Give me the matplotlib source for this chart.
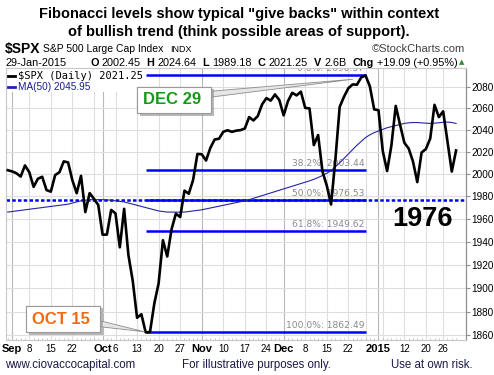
import numpy as np
import pandas as pd
import matplotlib
matplotlib.use("Agg")
import matplotlib.pyplot as plt
import matplotlib.patheffects as pe
from matplotlib.lines import Line2D
from matplotlib.patches import Rectangle
from matplotlib.ticker import FixedLocator, FixedFormatter, NullLocator

plt.rcParams['font.family'] = ['Liberation Sans', 'DejaVu Sans']

# trading days 29-Aug-2014 .. 29-Jan-2015
holidays = ['2014-09-01', '2014-11-27', '2014-12-25', '2015-01-01', '2015-01-19']

close = [
    2003.37,
    # Sep
    2002.28, 2000.72, 1997.65, 2007.71, 2001.54, 1988.44, 1995.69, 1997.45, 1985.54, 1984.13,
    1998.98, 2001.57, 2011.36, 2010.40, 1994.29, 1982.77, 1998.30, 1965.99, 1982.85, 1977.80,
    1972.29,
    # Oct
    1946.16, 1946.17, 1967.90, 1964.82, 1935.10, 1968.89, 1928.21, 1906.13, 1874.74, 1877.70,
    1862.49, 1862.76, 1886.76, 1904.01, 1941.28, 1927.11, 1950.82, 1964.58, 1961.63, 1985.05,
    1982.30, 1994.65, 2018.05,
    # Nov
    2017.81, 2012.10, 2023.57, 2031.21, 2031.92, 2038.26, 2039.68, 2038.25, 2039.33, 2039.82,
    2041.32, 2051.80, 2048.72, 2052.75, 2063.50, 2069.41, 2067.03, 2072.83, 2067.56,
    # Dec
    2053.44, 2066.55, 2074.33, 2071.92, 2075.37, 2060.31, 2059.82, 2026.14, 2035.33, 2002.33,
    1989.63, 1972.74, 2012.89, 2061.23, 2070.65, 2078.54, 2082.17, 2081.88, 2088.77, 2090.57,
    2080.35, 2058.90,
    # Jan
    2058.20, 2020.58, 2002.61, 2025.90, 2062.14, 2044.81, 2028.26, 2023.03, 2011.27, 1992.67,
    2019.42, 2022.55, 2032.12, 2063.15, 2051.82, 2057.09, 2029.55, 2002.16, 2021.25,
]

ma50 = [
    1966.0, 1966.5, 1967.0, 1967.5, 1968.0, 1968.5, 1969.0, 1969.5, 1970.0, 1970.5,
    1971.0, 1971.5, 1972.0, 1972.5, 1973.0, 1974.0, 1975.0, 1976.0, 1976.5, 1977.0,
    1977.0, 1977.0, 1977.0, 1976.8, 1976.5, 1976.0, 1975.5, 1975.0, 1974.0, 1973.0,
    1972.0, 1971.0, 1970.0, 1969.0, 1968.0, 1967.0, 1966.5, 1966.0, 1966.0, 1966.0,
    1966.0, 1966.0, 1966.5, 1967.0, 1967.5, 1968.0, 1968.8, 1969.6, 1970.4, 1971.2,
    1972.0, 1972.8, 1973.6, 1974.4, 1975.2, 1976.0, 1977.0, 1978.2, 1979.4, 1980.6,
    1981.8, 1983.0, 1984.2, 1985.4, 1986.6, 1987.8, 1989.0, 1990.2, 1991.4, 1992.6,
    1993.8, 1995.2, 1996.8, 1998.6, 2000.6, 2003.0, 2006.5, 2010.0, 2014.0, 2018.0,
    2022.0, 2026.0, 2029.5, 2033.0, 2035.5, 2037.5, 2039.0, 2040.5, 2042.0, 2043.0,
    2044.0, 2045.0, 2046.0, 2046.5, 2046.8, 2046.8, 2046.5, 2046.2, 2046.0, 2046.2,
    2046.6, 2047.0, 2047.2, 2046.8, 2045.95,
]

fib_pct = ['0.0%', '38.2%', '50.0%', '61.8%', '100.0%']
fib_val = [2090.57, 2003.44, 1976.53, 1949.62, 1862.49]
fib_start = '2014-10-15'
fib_end = '2014-12-29'

tick_dates = ['2014-09-02', '2014-09-08', '2014-09-15', '2014-09-22', '2014-10-01',
              '2014-10-06', '2014-10-13', '2014-10-20', '2014-10-27', '2014-11-03',
              '2014-11-10', '2014-11-17', '2014-11-24', '2014-12-01', '2014-12-08',
              '2014-12-15', '2014-12-22', '2015-01-02', '2015-01-12', '2015-01-20',
              '2015-01-26']
tick_labels = ['Sep', '8', '15', '22', 'Oct', '6', '13', '20', '27', 'Nov', '10', '17',
               '24', 'Dec', '8', '15', '22', '2015', '12', '20', '26']
month_labels = ['Sep', 'Oct', 'Nov', 'Dec', '2015']
extra_grid = ['2014-09-29', '2014-12-29', '2015-01-05']

y_ticks = list(range(1860, 2081, 20))

header_vals = [('O', '2002.45'), ('H', '2024.64'), ('L', '1989.18'),
               ('C', '2021.25'), ('V', '2.6B'), ('Chg', '+19.09 (+0.95%)')]

days = pd.bdate_range('2014-08-29', '2015-01-29')
days = days[~days.isin(pd.to_datetime(holidays))]
pos = {d.strftime('%Y-%m-%d'): i for i, d in enumerate(days)}
x = np.arange(len(days))

W, H = 494, 375


def fx(px):
    return px / W


def fy(py):
    return 1 - py / H


fig = plt.figure(figsize=(W / 100, H / 100), dpi=100)
ax = fig.add_axes([fx(6), fy(340), 460 / W, 272 / H])
ax.set_yscale('log')
ax.set_xlim(-0.4, 106.3)
ax.set_ylim(1856.1, 2097.6)

# grid
ax.set_axisbelow(True)
for d in tick_dates + extra_grid:
    lab = tick_labels[tick_dates.index(d)] if d in tick_dates else ''
    col = '#b8b8b8' if lab in month_labels else '#dedede'
    ax.axvline(pos[d], color=col, lw=0.8, zorder=0.3)
for v in y_ticks:
    ax.axhline(v, color='#dedede', lw=0.8, zorder=0.3)

# white legend area
ax.add_patch(Rectangle((fx(6), fy(92)), fx(140), 24 / H, transform=fig.transFigure,
                       fc='white', ec='none', zorder=0.6))

# fib levels
ax.axhline(fib_val[2], color='#0000ff', lw=1.8, ls=(0, (1.4, 0.9)), zorder=2)
x0, x1 = pos[fib_start], pos[fib_end]
for p, v in zip(fib_pct, fib_val):
    ax.hlines(v, x0, x1, color='#0000ff', lw=1.8, zorder=2)
    ax.annotate(f'{p}: {v:.2f}', xy=(x1 - 0.3, v), xytext=(0, 1.5),
                textcoords='offset points', ha='right', va='bottom',
                fontsize=6.6, color='#8a8a8a', family='DejaVu Sans',
                annotation_clip=False, clip_on=True, zorder=2)

ax.plot(x, ma50, color='#2323a8', lw=0.8, zorder=3)
ax.plot(x, close, color='black', lw=1.9, zorder=4, solid_joinstyle='round')

# axes style
for s in ['left', 'bottom', 'top']:
    ax.spines[s].set_color('#c8c8c8')
    ax.spines[s].set_linewidth(0.8)
ax.spines['right'].set_color('#909090')
ax.spines['right'].set_linewidth(0.9)

ax.yaxis.tick_right()
ax.yaxis.set_major_locator(FixedLocator(y_ticks))
ax.yaxis.set_major_formatter(FixedFormatter([str(v) for v in y_ticks]))
ax.yaxis.set_minor_locator(NullLocator())
ax.tick_params(axis='y', which='major', direction='out', length=3, width=0.8,
               color='#909090', labelsize=7.2, pad=1)

ax.set_xticks([pos[d] for d in tick_dates])
ax.set_xticklabels(tick_labels)
ax.set_xticks(x, minor=True)
ax.tick_params(axis='x', which='major', length=0, labelsize=7, pad=3)
ax.tick_params(axis='x', which='minor', direction='in', length=1.5, width=0.5,
               color='#b0b0b0')
for t in ax.get_xticklabels():
    if t.get_text() in month_labels:
        t.set_fontweight('bold')
        t.set_fontsize(8)

# callouts
shadow = [pe.withSimplePatchShadow(offset=(2, -2), shadow_rgbFace='#9a9a9a', alpha=0.7),
          pe.Normal()]
dec = ax.annotate('DEC 29 ', xy=(pos['2014-12-29'] - 3, 2087),
                  xytext=(fx(174), fy(100)), textcoords='figure fraction',
                  ha='center', va='center', fontsize=12, fontweight='bold',
                  color='#159a15', zorder=6,
                  bbox=dict(boxstyle='square,pad=0.35', fc='white', ec='#9a9a9a', lw=0.8),
                  arrowprops=dict(arrowstyle='wedge,tail_width=0.35,shrink_factor=0.5',
                                  fc='#e6e6e6', ec='#8c8c8c', lw=0.6,
                                  relpos=(1, 0.85), shrinkA=0, shrinkB=0))
dec.get_bbox_patch().set_path_effects(shadow)

octb = ax.annotate('OCT 15 ', xy=(pos['2014-10-15'] - 0.3, 1863),
                   xytext=(fx(63), fy(319)), textcoords='figure fraction',
                   ha='center', va='center', fontsize=12, fontweight='bold',
                   color='#f26a12', zorder=6,
                   bbox=dict(boxstyle='square,pad=0.35', fc='white', ec='#9a9a9a', lw=0.8),
                   arrowprops=dict(arrowstyle='wedge,tail_width=0.35,shrink_factor=0.5',
                                   fc='#e6e6e6', ec='#8c8c8c', lw=0.6,
                                   relpos=(1, 0.25), shrinkA=0, shrinkB=0))
octb.get_bbox_patch().set_path_effects(shadow)

fig.text(fx(422), fy(219), '1976', ha='center', va='center', fontsize=19.5,
         fontweight='bold')

# legend
fig.add_artist(Line2D([fx(8), fx(15)], [fy(75.7)] * 2, color='black', lw=2))
fig.add_artist(Line2D([fx(8), fx(15)], [fy(86.7)] * 2, color='#2323a8', lw=2))
fig.text(fx(18), fy(75.7), '$SPX (Daily) 2021.25', ha='left', va='center',
         fontsize=7.5, family='DejaVu Sans Mono')
fig.text(fx(18), fy(86.7), 'MA(50) 2045.95', ha='left', va='center',
         fontsize=7.2, color='#1c1c8c')

# title and header
fig.text(fx(239), fy(14), 'Fibonacci levels show typical "give backs" within context',
         ha='center', va='center', fontsize=10.5, fontweight='bold')
fig.text(fx(239), fy(32), 'of bullish trend (think possible areas of support).',
         ha='center', va='center', fontsize=10.5, fontweight='bold')

fig.text(fx(5), fy(49.5), '$SPX', ha='left', va='center', fontsize=10, fontweight='bold')
fig.text(fx(43), fy(49.5), 'S&P 500 Large Cap Index', ha='left', va='center', fontsize=7.5)
fig.text(fx(170), fy(49.5), 'INDX', ha='left', va='center', fontsize=6.5)
fig.text(fx(465), fy(49.5), '\u00a9StockCharts.com', ha='right', va='center',
         fontsize=8, color='#404040')

fig.text(fx(5), fy(62.7), '29-Jan-2015', ha='left', va='center', fontsize=7.8)
renderer = fig.canvas.get_renderer()
cur = 90.0
for k, v in header_vals:
    t = fig.text(fx(cur), fy(62.7), k, ha='left', va='center', fontsize=7.8,
                 fontweight='bold')
    cur = t.get_window_extent(renderer).x1 + 3
    t = fig.text(fx(cur), fy(62.7), v, ha='left', va='center', fontsize=7.8)
    cur = t.get_window_extent(renderer).x1 + 6
fig.text(fx(462), fy(62.5), '\u25b2', ha='center', va='center', fontsize=5,
         color='#2e8b2e', family='DejaVu Sans')

# footer
fig.text(fx(5), fy(365), 'www.ciovaccocapital.com', ha='left', va='center',
         fontsize=8.3, color='#1a1a48')
fig.text(fx(182), fy(365), 'For illustrative purposes only.', ha='left', va='center',
         fontsize=8.3, color='#1a1a48')
fig.text(fx(473), fy(365), 'Use at own risk.', ha='right', va='center',
         fontsize=8.3, color='#1a1a48')

fig.savefig('out.png', dpi=100)
